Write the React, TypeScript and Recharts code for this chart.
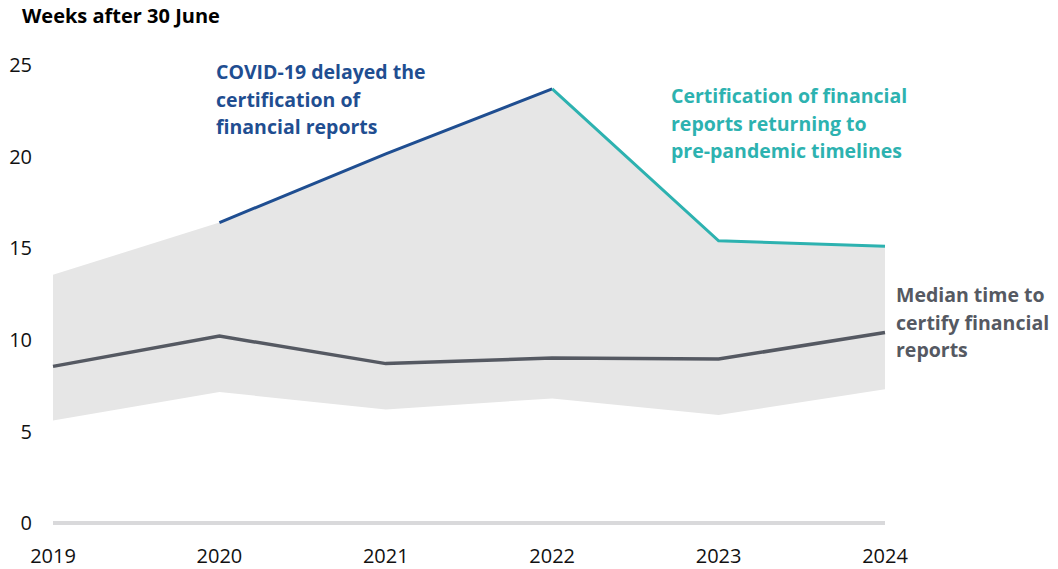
import { Area, ComposedChart, Line, XAxis, YAxis } from 'recharts';

const years = ['2019', '2020', '2021', '2022', '2023', '2024'];
const rangeLow = [5.6, 7.15, 6.2, 6.8, 5.9, 7.3];
const rangeHigh = [13.55, 16.4, 20.15, 23.7, 15.4, 15.1];
const median = [8.55, 10.2, 8.7, 9.0, 8.95, 10.4];
const covidDelay = [null, 16.4, 20.15, 23.7, null, null];
const recovery = [null, null, null, 23.7, 15.4, 15.1];
const yTicks = [0, 5, 10, 15, 20, 25];

const FONT = '"Open Sans", "Noto Sans", sans-serif';

const chartData = years.map((year, i) => ({
  year,
  range: [rangeLow[i], rangeHigh[i]],
  median: median[i],
  covid: covidDelay[i],
  recovery: recovery[i],
}));

const noteStyle = {
  position: 'absolute' as const,
  fontFamily: FONT,
  fontWeight: 700,
  fontSize: 19.5,
  lineHeight: '27.5px',
  whiteSpace: 'nowrap' as const,
};

export default function App() {
  return (
    <div style={{ position: 'absolute', left: 0, top: 0, width: 1058, height: 569, background: '#fff' }}>
      <div style={{ ...noteStyle, left: 22, top: 4, fontSize: 20, color: '#000', lineHeight: '24px' }}>
        Weeks after 30 June
      </div>
      <ComposedChart
        width={1058}
        height={569}
        data={chartData}
        margin={{ top: 65, right: 173, left: 0, bottom: 0 }}
      >
        <XAxis
          dataKey="year"
          axisLine={{ stroke: '#d9d9db', strokeWidth: 4 }}
          tickLine={false}
          tickSize={0}
          tickMargin={26}
          height={46}
          tick={{ fill: '#111', fontSize: 20, fontFamily: FONT }}
          padding={{ left: 0, right: 0 }}
        />
        <YAxis
          domain={[0, 25]}
          ticks={yTicks}
          width={53}
          axisLine={false}
          tickLine={false}
          tickSize={0}
          tickMargin={21}
          tick={{ fill: '#111', fontSize: 20, fontFamily: FONT }}
        />
        <Area
          dataKey="range"
          type="linear"
          stroke="none"
          fill="#e6e6e6"
          fillOpacity={1}
          isAnimationActive={false}
        />
        <Line
          dataKey="median"
          type="linear"
          stroke="#555962"
          strokeWidth={3.5}
          dot={false}
          isAnimationActive={false}
        />
        <Line
          dataKey="covid"
          type="linear"
          stroke="#1f4e91"
          strokeWidth={3}
          dot={false}
          connectNulls={false}
          isAnimationActive={false}
        />
        <Line
          dataKey="recovery"
          type="linear"
          stroke="#2db2b0"
          strokeWidth={3}
          dot={false}
          connectNulls={false}
          isAnimationActive={false}
        />
      </ComposedChart>
      <div style={{ ...noteStyle, left: 216, top: 58, color: '#1f4e91' }}>
        COVID-19 delayed the
        <br />
        certification of
        <br />
        financial reports
      </div>
      <div style={{ ...noteStyle, left: 671, top: 82, color: '#2db2b0' }}>
        Certification of financial
        <br />
        reports returning to
        <br />
        pre-pandemic timelines
      </div>
      <div style={{ ...noteStyle, left: 896, top: 281, color: '#555962' }}>
        Median time to
        <br />
        certify financial
        <br />
        reports
      </div>
    </div>
  );
}
